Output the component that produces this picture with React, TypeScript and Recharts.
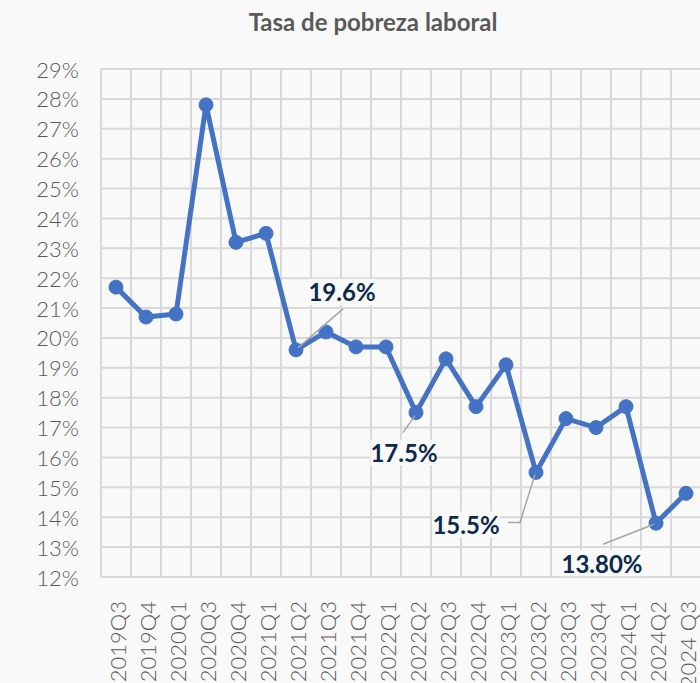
import React from "react";
import { LineChart, Line, XAxis, YAxis, CartesianGrid, ReferenceLine, LabelList } from "recharts";

const categories = [
  "2019Q3", "2019Q4", "2020Q1", "2020Q3", "2020Q4", "2021Q1", "2021Q2", "2021Q3", "2021Q4", "2022Q1",
  "2022Q2", "2022Q3", "2022Q4", "2023Q1", "2023Q2", "2023Q3", "2023Q4", "2024Q1", "2024Q2", "2024 Q3",
];
const values = [21.7, 20.7, 20.8, 27.8, 23.2, 23.5, 19.6, 20.2, 19.7, 19.7, 17.5, 19.3, 17.7, 19.1, 15.5, 17.3, 17.0, 17.7, 13.8, 14.8];
const yTicks = [12, 13, 14, 15, 16, 17, 18, 19, 20, 21, 22, 23, 24, 25, 26, 27, 28, 29];
const annotationText: Record<number, string> = { 6: "19.6%", 10: "17.5%", 14: "15.5%", 18: "13.80%" };

const data = categories.map((c, i) => ({ x: i + 0.5, label: c, v: values[i] }));
const boundaries = categories.map((_, i) => i).concat([categories.length]);

const BG = "#f9f9f9";
const GRID = "#d9d9d9";
const FONT = "Lato, 'Open Sans', sans-serif";

// layout offsets for annotation text and leader lines, relative to point
const annLayout: Record<number, { tx: number; ty: number; path: [number, number][] }> = {
  6: { tx: 46, ty: -58, path: [[2, -2], [47, -41]] },
  10: { tx: -12, ty: 40, path: [[-1, 3], [-13, 20]] },
  14: { tx: -70, ty: 52, path: [[-1, 2], [-16, 50], [-28, 50]] },
  18: { tx: -54, ty: 40, path: [[-2, 1], [-53, 21]] },
};

const AnnLabel = (props: any) => {
  const { x, y, index } = props;
  const txt = annotationText[index];
  if (!txt) return null;
  const l = annLayout[index];
  const w = txt.length * 13 + 2;
  return (
    <g>
      <polyline
        points={l.path.map(([dx, dy]) => `${x + dx},${y + dy}`).join(" ")}
        fill="none"
        stroke="#a6a6a6"
        strokeWidth={1.5}
      />
      <rect x={x + l.tx - w / 2} y={y + l.ty - 13} width={w} height={26} fill={BG} />
      <text
        x={x + l.tx}
        y={y + l.ty}
        textAnchor="middle"
        dominantBaseline="central"
        fontFamily={FONT}
        fontWeight={700}
        fontSize={24}
        fill="#0c2a4d"
      >
        {txt}
      </text>
    </g>
  );
};

const XTick = (props: any) => {
  const { x, y, payload } = props;
  const idx = Math.floor(payload.value);
  return (
    <text
      transform={`translate(${x + 1},${y + 16}) rotate(-90)`}
      textAnchor="end"
      dominantBaseline="central"
      fontFamily={FONT}
      fontWeight={300}
      fontSize={22}
      fill="#595959"
    >
      {categories[idx]}
    </text>
  );
};

const YTick = (props: any) => {
  const { x, y, payload } = props;
  return (
    <text
      x={x}
      y={y}
      textAnchor="end"
      dominantBaseline="central"
      fontFamily={FONT}
      fontWeight={300}
      fontSize={22}
      fill="#595959"
    >
      {payload.value}%
    </text>
  );
};

export default function App() {
  return (
    <div
      style={{
        position: "absolute",
        left: 0,
        top: 0,
        width: 700,
        height: 683,
        overflow: "hidden",
        background: BG,
      }}
    >
      <div
        style={{
          position: "absolute",
          left: 0,
          top: 7,
          width: 746,
          textAlign: "center",
          fontFamily: FONT,
          fontWeight: 700,
          fontSize: 24,
          color: "#595959",
          lineHeight: "30px",
        }}
      >
        Tasa de pobreza laboral
      </div>
      <div style={{ position: "absolute", left: 0, top: 0 }}>
        <LineChart width={720} height={683} data={data} margin={{ top: 69, right: 19, bottom: 0, left: 0 }}>
          <CartesianGrid vertical={false} stroke={GRID} strokeWidth={2} />
          {boundaries.map((b) => (
            <ReferenceLine key={b} x={b} stroke={GRID} strokeWidth={2} ifOverflow="visible" />
          ))}
          <XAxis
            type="number"
            dataKey="x"
            domain={[0, categories.length]}
            ticks={data.map((d) => d.x)}
            interval={0}
            tick={<XTick />}
            axisLine={false}
            tickLine={false}
            height={106}
          />
          <YAxis
            domain={[12, 29]}
            ticks={yTicks}
            interval={0}
            tick={<YTick />}
            axisLine={false}
            tickLine={false}
            width={101}
            tickMargin={16}
          />
          <Line
            type="linear"
            dataKey="v"
            stroke="#4472C4"
            strokeWidth={5}
            dot={{ r: 7, fill: "#4472C4", stroke: "#4472C4", strokeWidth: 1 }}
            isAnimationActive={false}
          >
            <LabelList dataKey="v" content={<AnnLabel />} />
          </Line>
        </LineChart>
      </div>
    </div>
  );
}
